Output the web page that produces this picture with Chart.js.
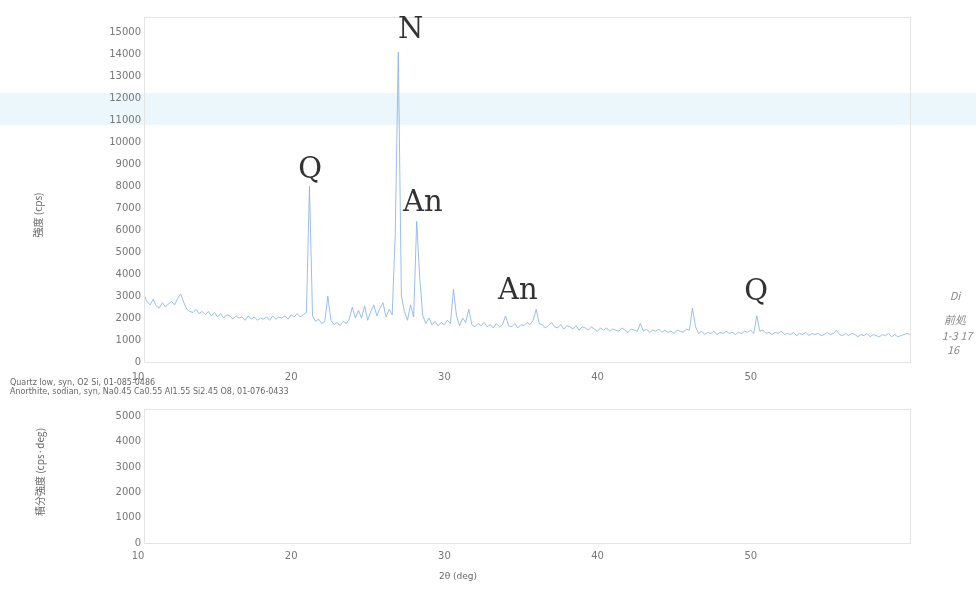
<!DOCTYPE html>
<html>
<head>
<meta charset="utf-8">
<script src="https://cdn.jsdelivr.net/npm/chart.js@4.4.1/dist/chart.umd.min.js"></script>
<style>
  html, body { margin: 0; padding: 0; background: #fff; }
  #wrap { position: relative; width: 976px; height: 594px; overflow: hidden; }
  #top, #bottom { position: absolute; left: 0; }
  #top { top: 0; }
  #bottom { top: 400px; }
</style>
</head>
<body>
<div id="wrap">
  <canvas id="top" width="976" height="400"></canvas>
  <canvas id="bottom" width="976" height="194"></canvas>
</div>
<script>
// scan settings (2theta, deg)
const scanStart = 10;
const scanStep = 0.2;

// measured intensity (cps), one row per degree, 0.2 deg step
const counts = [
  3050, 2750, 2600, 2850, 2550,   // 10
  2450, 2700, 2500, 2650, 2750,   // 11
  2600, 2900, 3100, 2700, 2400,   // 12
  2300, 2250, 2400, 2200, 2300,   // 13
  2150, 2300, 2100, 2250, 2050,   // 14
  2200, 2000, 2150, 2100, 1950,   // 15
  2100, 2000, 2050, 1900, 2100,   // 16
  1950, 2050, 1900, 2000, 1950,   // 17
  2050, 1900, 2100, 1950, 2050,   // 18
  2000, 2100, 1950, 2150, 2050,   // 19
  2200, 2050, 2150, 2250, 8000,   // 20
  2100, 1850, 1950, 1750, 1850,   // 21
  3000, 1900, 1700, 1800, 1650,   // 22
  1850, 1750, 1950, 2500, 2000,   // 23
  2350, 2000, 2550, 1900, 2300,   // 24
  2600, 2100, 2450, 2700, 2050,   // 25
  2400, 2150, 5800, 14100, 3000,  // 26
  2300, 1900, 2600, 2050, 6400,   // 27
  3800, 2100, 1750, 2000, 1700,   // 28
  1850, 1650, 1800, 1700, 1900,   // 29
  1750, 3300, 2100, 1650, 2000,   // 30
  1800, 2400, 1700, 1600, 1750,   // 31
  1650, 1800, 1600, 1700, 1550,   // 32
  1750, 1600, 1700, 2100, 1650,   // 33
  1600, 1750, 1550, 1700, 1650,   // 34
  1800, 1700, 1900, 2400, 1750,   // 35
  1700, 1550, 1650, 1800, 1600,   // 36
  1550, 1700, 1500, 1650, 1600,   // 37
  1500, 1650, 1450, 1600, 1550,   // 38
  1450, 1600, 1500, 1400, 1550,   // 39
  1450, 1550, 1400, 1500, 1450,   // 40
  1400, 1550, 1450, 1350, 1500,   // 41
  1450, 1400, 1750, 1400, 1500,   // 42
  1350, 1450, 1400, 1500, 1350,   // 43
  1450, 1350, 1400, 1300, 1450,   // 44
  1400, 1350, 1500, 1450, 2450,   // 45
  1600, 1300, 1400, 1250, 1350,   // 46
  1300, 1400, 1250, 1350, 1300,   // 47
  1400, 1300, 1350, 1250, 1350,   // 48
  1300, 1400, 1350, 1450, 1300,   // 49
  2100, 1400, 1450, 1300, 1350,   // 50
  1250, 1350, 1300, 1400, 1250,   // 51
  1300, 1250, 1350, 1200, 1300,   // 52
  1250, 1350, 1200, 1300, 1250,   // 53
  1300, 1200, 1250, 1350, 1250,   // 54
  1300, 1450, 1250, 1200, 1300,   // 55
  1200, 1300, 1250, 1150, 1250,   // 56
  1200, 1300, 1150, 1250, 1200,   // 57
  1150, 1250, 1200, 1300, 1150,   // 58
  1250, 1150, 1200, 1250, 1300,   // 59
  1250                            // 60
];

// axis tick labels
const thetaTicks = [10, 20, 30, 40, 50];
const cpsTicks = [0, 1000, 2000, 3000, 4000, 5000, 6000, 7000, 8000, 9000, 10000,
                  11000, 12000, 13000, 14000, 15000];
const integTicks = [0, 1000, 2000, 3000, 4000, 5000];

// phase marks written on the pattern
const markText  = ['N', 'Q', 'An', 'An', 'Q'];
const markTheta = [27.4, 20.85, 28.2, 34.4, 49.95];
const markCps   = [15100, 8700, 7200, 3200, 3150];

// identified phases listed under the pattern
const phaseLines = [
  'Quartz low, syn, O2 Si, 01-085-0486',
  'Anorthite, sodian, syn, Na0.45 Ca0.55 Al1.55 Si2.45 O8, 01-076-0433'
];

// handwritten notes at the right margin
const noteLines = ['Di', '前処', '1-3 17', '16'];

const tickFont = { family: 'DejaVu Sans', size: 10 };
const tickColor = '#777';

function fixedTicks(values) {
  return scale => { scale.ticks = values.map(v => ({ value: v })); };
}

// faint frame + scanner stripe + free text
const decorTop = {
  id: 'decorTop',
  beforeDraw(chart) {
    const c = chart.ctx;
    c.save();
    c.fillStyle = 'rgba(185,225,242,0.28)';
    c.fillRect(0, 93, 976, 32);
    c.restore();
  },
  afterDraw(chart) {
    const c = chart.ctx;
    const a = chart.chartArea;
    const xs = chart.scales.x, ys = chart.scales.y;
    c.save();
    c.strokeStyle = '#e4e4e4';
    c.lineWidth = 1;
    c.strokeRect(a.left + 0.5, a.top + 0.5, a.right - a.left, a.bottom - a.top);

    c.fillStyle = '#333';
    c.font = '29px "DejaVu Serif"';
    c.textAlign = 'center';
    c.textBaseline = 'middle';
    markText.forEach((t, i) => {
      c.fillText(t, xs.getPixelForValue(markTheta[i]), ys.getPixelForValue(markCps[i]));
    });

    c.fillStyle = '#666';
    c.font = '8px "DejaVu Sans"';
    c.textAlign = 'left';
    c.fillText(phaseLines[0], 10, 383);
    c.fillText(phaseLines[1], 10, 392);

    c.font = '10px "Noto Sans CJK JP"';
    c.translate(38, 215);
    c.rotate(-Math.PI / 2);
    c.textAlign = 'center';
    c.fillText('強度 (cps)', 0, 0);
    c.restore();

    c.save();
    c.fillStyle = '#888';
    c.font = 'italic 11px "Noto Sans CJK JP"';
    c.textAlign = 'center';
    c.textBaseline = 'middle';
    c.fillText(noteLines[0], 955, 296);
    c.fillText(noteLines[1], 955, 320);
    c.fillText(noteLines[2], 957, 336);
    c.fillText(noteLines[3], 953, 350);
    c.restore();
  }
};

const decorBottom = {
  id: 'decorBottom',
  afterDraw(chart) {
    const c = chart.ctx;
    const a = chart.chartArea;
    c.save();
    c.strokeStyle = '#e4e4e4';
    c.lineWidth = 1;
    c.strokeRect(a.left + 0.5, a.top + 0.5, a.right - a.left, a.bottom - a.top);
    c.fillStyle = '#666';
    c.font = '9px "DejaVu Sans"';
    c.textAlign = 'center';
    c.textBaseline = 'middle';
    c.fillText('2θ (deg)', 458, 177);
    c.font = '10px "Noto Sans CJK JP"';
    c.translate(40, 72);
    c.rotate(-Math.PI / 2);
    c.fillText('積分強度 (cps·deg)', 0, 0);
    c.restore();
  }
};

function axisX(pad) {
  return {
    type: 'linear', min: 10, max: 60,
    afterBuildTicks: fixedTicks(thetaTicks),
    afterFit: s => { s.height = 18; },
    ticks: { autoSkip: false, font: tickFont, color: tickColor, padding: pad, labelOffset: -6,
             maxRotation: 0, callback: v => String(v) },
    grid: { display: false, drawTicks: false },
    border: { display: false }
  };
}

function axisY(max, values) {
  return {
    type: 'linear', min: 0, max: max,
    afterBuildTicks: fixedTicks(values),
    afterFit: s => { s.width = 144; },
    ticks: { autoSkip: false, font: tickFont, color: tickColor, padding: 3, callback: v => String(v) },
    grid: { display: false, drawTicks: false },
    border: { display: false }
  };
}

new Chart(document.getElementById('top'), {
  type: 'line',
  data: {
    datasets: [{
      label: 'Intensity',
      data: counts.map((v, i) => ({ x: scanStart + i * scanStep, y: v })),
      borderColor: 'rgba(135,180,228,0.85)',
      borderWidth: 1,
      pointRadius: 0,
      tension: 0
    }]
  },
  options: {
    responsive: false,
    animation: false,
    layout: { padding: { left: 0, right: 66, top: 17, bottom: 20 } },
    plugins: { legend: { display: false }, tooltip: { enabled: false } },
    scales: { x: axisX(9), y: axisY(15700, cpsTicks) }
  },
  plugins: [decorTop]
});

new Chart(document.getElementById('bottom'), {
  type: 'line',
  data: { datasets: [] },
  options: {
    responsive: false,
    animation: false,
    layout: { padding: { left: 0, right: 66, top: 5, bottom: 33 } },
    plugins: { legend: { display: false }, tooltip: { enabled: false } },
    scales: { x: axisX(7), y: axisY(5300, integTicks) }
  },
  plugins: [decorBottom]
});
</script>
</body>
</html>
